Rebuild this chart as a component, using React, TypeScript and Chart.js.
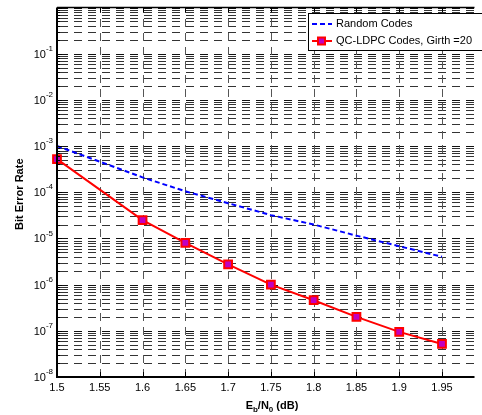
import React, { useEffect, useRef } from "react";
import { Chart, registerables } from "chart.js";

Chart.register(...registerables);

// ---- data ----
const randomX = [1.5, 1.55, 1.6, 1.65, 1.7, 1.75, 1.8, 1.85, 1.9, 1.95];
const randomBER = [1.0e-3, 4.6e-4, 2.1e-4, 1.05e-4, 5.8e-5, 3.2e-5, 2.0e-5, 1.15e-5, 6.8e-6, 4.0e-6];
const qcX = [1.5, 1.6, 1.65, 1.7, 1.75, 1.8, 1.85, 1.9, 1.95];
const qcBER = [5.2e-4, 2.5e-5, 8.0e-6, 2.75e-6, 1.0e-6, 4.6e-7, 2.0e-7, 9.5e-8, 5.2e-8];
const xTicks = [1.5, 1.55, 1.6, 1.65, 1.7, 1.75, 1.8, 1.85, 1.9, 1.95, 2.0];
const xTickLabels = ["1.5", "1.55", "1.6", "1.65", "1.7", "1.75", "1.8", "1.85", "1.9", "1.95", "2"];
const yExponents = [-8, -7, -6, -5, -4, -3, -2, -1];
const seriesNames = ["Random Codes", "QC-LDPC Codes, Girth =20"];

const FONT = "'Liberation Sans', Arial, Helvetica, sans-serif";
const MARKER_FILL = "#c000c0";

const matlabPlugin = {
  id: "matlabDecor",
  beforeDatasetsDraw(chart: any) {
    const { ctx, chartArea, scales } = chart;
    const xs = scales.x;
    const ys = scales.y;
    const { left, right, top, bottom } = chartArea;
    ctx.save();
    ctx.lineWidth = 1;
    ctx.setLineDash([8, 6]);
    ctx.lineDashOffset = -3;
    for (let e = -8; e <= 0; e++) {
      for (let k = 1; k <= 9; k++) {
        const v = k * Math.pow(10, e);
        if (v > 1.0000001) continue;
        const y = Math.round(ys.getPixelForValue(v)) + 0.5;
        if (y < top - 1 || y > bottom + 1) continue;
        ctx.strokeStyle = k === 1 ? "#111" : "#333";
        ctx.beginPath();
        ctx.moveTo(left, y);
        ctx.lineTo(right, y);
        ctx.stroke();
      }
    }
    ctx.strokeStyle = "#555";
    ctx.setLineDash([8, 6]);
    ctx.lineDashOffset = 0;
    xTicks.forEach((t) => {
      const x = Math.round(xs.getPixelForValue(t)) + 0.5;
      if (x < left + 1 || x > right) return;
      ctx.beginPath();
      ctx.moveTo(x, bottom);
      ctx.lineTo(x, top);
      ctx.stroke();
    });
    ctx.restore();
  },
  afterDatasetsDraw(chart: any) {
    const { ctx, chartArea, scales } = chart;
    const xs = scales.x;
    const ys = scales.y;
    const { left, right, top, bottom } = chartArea;
    ctx.save();
    ctx.setLineDash([]);
    ctx.strokeStyle = "#000";
    ctx.lineWidth = 1;
    for (let e = -8; e <= 0; e++) {
      for (let k = 1; k <= 9; k++) {
        const v = k * Math.pow(10, e);
        if (v > 1.0000001) continue;
        const y = Math.round(ys.getPixelForValue(v)) + 0.5;
        const len = k === 1 ? 5 : 3;
        ctx.beginPath();
        ctx.moveTo(left, y);
        ctx.lineTo(left + len, y);
        ctx.stroke();
      }
    }
    xTicks.forEach((t) => {
      const x = Math.round(xs.getPixelForValue(t)) + 0.5;
      if (x > right) return;
      ctx.beginPath();
      ctx.moveTo(x, bottom);
      ctx.lineTo(x, bottom - 5);
      ctx.moveTo(x, top);
      ctx.lineTo(x, top + 5);
      ctx.stroke();
    });
    ctx.lineWidth = 2;
    ctx.beginPath();
    ctx.moveTo(left, top);
    ctx.lineTo(left, bottom);
    ctx.lineTo(right, bottom);
    ctx.stroke();
    ctx.lineWidth = 1.5;
    ctx.beginPath();
    ctx.moveTo(left, top);
    ctx.lineTo(right, top);
    ctx.stroke();
    ctx.restore();
  },
  afterDraw(chart: any) {
    const { ctx, chartArea, scales } = chart;
    const xs = scales.x;
    const ys = scales.y;
    const { right, top, bottom } = chartArea;
    ctx.save();
    ctx.setLineDash([]);
    // x tick labels
    ctx.fillStyle = "#000";
    ctx.font = `11px ${FONT}`;
    ctx.textAlign = "center";
    ctx.textBaseline = "middle";
    xTicks.forEach((t, i) => {
      const x = xs.getPixelForValue(t);
      if (x > right - 5) return;
      ctx.fillText(xTickLabels[i], x, bottom + 11);
    });

    // y tick labels 10^e
    yExponents.forEach((e) => {
      const y = ys.getPixelForValue(Math.pow(10, e));
      const expStr = String(e);
      ctx.font = `8px ${FONT}`;
      const ew = ctx.measureText(expStr).width;
      const rightEdge = 53;
      ctx.textAlign = "left";
      ctx.textBaseline = "middle";
      ctx.fillText(expStr, rightEdge - ew, y - 5);
      ctx.font = `11px ${FONT}`;
      ctx.textAlign = "right";
      ctx.fillText("10", rightEdge - ew, y + 1);
    });

    // y title
    ctx.save();
    ctx.translate(20, (top + bottom) / 2 + 2);
    ctx.rotate(-Math.PI / 2);
    ctx.font = `bold 11px ${FONT}`;
    ctx.textAlign = "center";
    ctx.textBaseline = "middle";
    ctx.fillText("Bit Error Rate", 0, 0);
    ctx.restore();

    // x title: E_b/N_0 (dB)
    const parts: [string, boolean][] = [["E", false], ["b", true], ["/N", false], ["0", true], [" (dB)", false]];
    const mainFont = `bold 11px ${FONT}`;
    const subFont = `bold 8px ${FONT}`;
    let total = 0;
    parts.forEach(([s, sub]) => {
      ctx.font = sub ? subFont : mainFont;
      total += ctx.measureText(s).width;
    });
    let cx = 272 - total / 2;
    const baseY = 409;
    ctx.textAlign = "left";
    ctx.textBaseline = "alphabetic";
    parts.forEach(([s, sub]) => {
      ctx.font = sub ? subFont : mainFont;
      ctx.fillText(s, cx, sub ? baseY + 3 : baseY);
      cx += ctx.measureText(s).width;
    });

    // legend
    const lx = 308, ly = 13, lw = 200, lh = 37;
    ctx.fillStyle = "#fff";
    ctx.fillRect(lx, ly, lw, lh);
    ctx.strokeStyle = "#000";
    ctx.lineWidth = 1;
    ctx.strokeRect(lx + 0.5, ly + 0.5, lw, lh);
    const r1 = 24, r2 = 41;
    ctx.strokeStyle = "#0000ff";
    ctx.lineWidth = 2;
    ctx.setLineDash([5, 3]);
    ctx.beginPath();
    ctx.moveTo(312, r1);
    ctx.lineTo(332, r1);
    ctx.stroke();
    ctx.setLineDash([]);
    ctx.strokeStyle = "#ff0000";
    ctx.beginPath();
    ctx.moveTo(312, r2);
    ctx.lineTo(332, r2);
    ctx.stroke();
    ctx.fillStyle = MARKER_FILL;
    ctx.fillRect(318, r2 - 3.5, 7, 7);
    ctx.strokeRect(318, r2 - 3.5, 7, 7);
    ctx.fillStyle = "#000";
    ctx.font = `11px ${FONT}`;
    ctx.textAlign = "left";
    ctx.textBaseline = "middle";
    ctx.fillText(seriesNames[0], 336, r1);
    ctx.fillText(seriesNames[1], 336, r2);
    ctx.restore();
  },
};

export default function App() {
  const canvasRef = useRef<HTMLCanvasElement | null>(null);
  useEffect(() => {
    if (!canvasRef.current) return;
    const chart = new Chart(canvasRef.current, {
      type: "line",
      data: {
        datasets: [
          {
            label: seriesNames[0],
            data: randomX.map((x, i) => ({ x, y: randomBER[i] })),
            borderColor: "#0000ff",
            borderWidth: 2,
            borderDash: [5, 3],
            pointRadius: 0,
            fill: false,
            tension: 0,
          },
          {
            label: seriesNames[1],
            data: qcX.map((x, i) => ({ x, y: qcBER[i] })),
            borderColor: "#ff0000",
            borderWidth: 2,
            pointStyle: "rect",
            pointRadius: 5.5,
            pointBorderWidth: 2,
            pointBackgroundColor: MARKER_FILL,
            pointBorderColor: "#ff0000",
            fill: false,
            tension: 0,
            clip: false,
          },
        ],
      },
      options: {
        responsive: false,
        maintainAspectRatio: false,
        animation: false,
        layout: { padding: { left: 57, top: 7, right: 0, bottom: 38 } },
        plugins: { legend: { display: false }, tooltip: { enabled: false } },
        scales: {
          x: { type: "linear", min: 1.5, max: 1.988, display: false },
          y: { type: "logarithmic", min: 1e-8, max: 1, display: false },
        },
      },
      plugins: [matlabPlugin],
    });
    return () => chart.destroy();
  }, []);
  return (
    <div style={{ position: "fixed", left: 0, top: 0, width: 482, height: 415, background: "#fff" }}>
      <canvas ref={canvasRef} width={482} height={415} style={{ display: "block" }} />
    </div>
  );
}
